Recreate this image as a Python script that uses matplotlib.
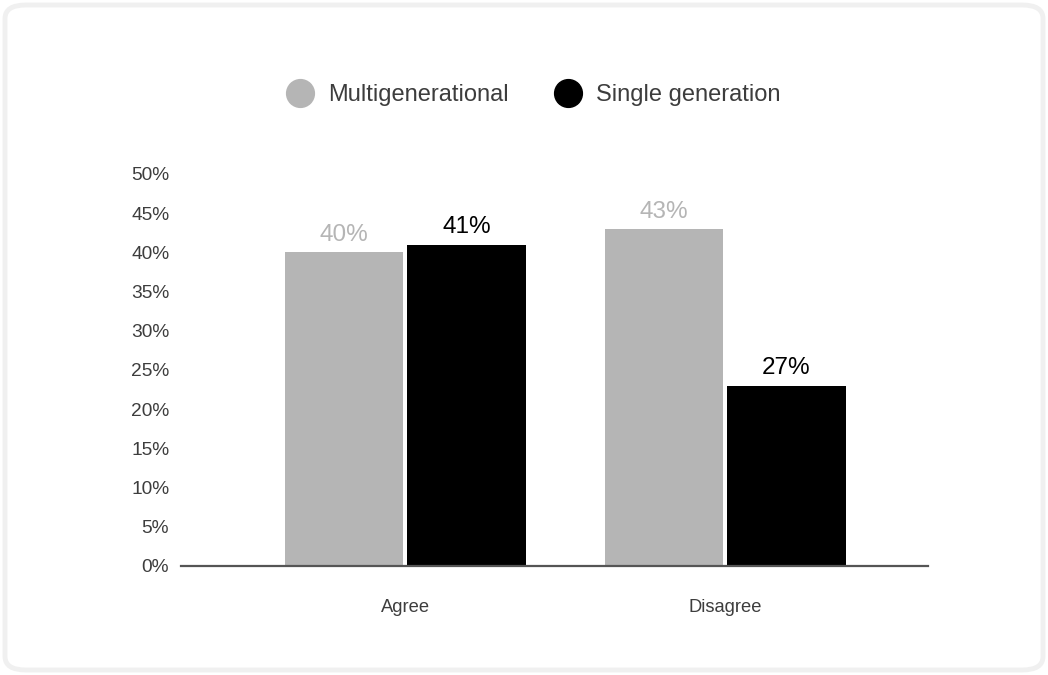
import matplotlib.pyplot as plt
from matplotlib.lines import Line2D
from matplotlib.patches import FancyBboxPatch
import numpy as np

plt.rcParams['font.family'] = ['Liberation Sans', 'DejaVu Sans']

categories = ['Agree', 'Disagree']
series_names = ['Multigenerational', 'Single generation']
multi_values = [40, 43]
single_values = [41, 23]
multi_labels = ['40%', '43%']
single_labels = ['41%', '27%']
y_ticks = [0, 5, 10, 15, 20, 25, 30, 35, 40, 45, 50]

GRAY = '#b5b5b5'
BLACK = '#000000'
TEXT = '#3d3d3d'

fig = plt.figure(figsize=(10.48, 6.75), dpi=100)

# рамка с закруглёнными углами
frame = FancyBboxPatch((5 / 1048, 5 / 675), 1038 / 1048, 665 / 675,
                       boxstyle='round,pad=0,rounding_size=0.02',
                       transform=fig.transFigure, facecolor='white',
                       edgecolor='#f0f0f0', linewidth=3.5, zorder=-1)
fig.patches.append(frame)

ax = fig.add_axes([181 / 1048, 109 / 675, 747 / 1048, 392 / 675])
ax.set_facecolor('none')
ax.set_zorder(2)

x = np.arange(len(categories))
width = 0.369
offset = 0.192

bars_m = ax.bar(x - offset, multi_values, width, color=GRAY)
bars_s = ax.bar(x + offset, single_values, width, color=BLACK)

for b, lab in zip(bars_m, multi_labels):
    ax.text(b.get_x() + b.get_width() / 2, b.get_height() + 0.8, lab,
            ha='center', va='bottom', fontsize=17.5, color=GRAY)
for b, lab in zip(bars_s, single_labels):
    ax.text(b.get_x() + b.get_width() / 2, b.get_height() + 0.8, lab,
            ha='center', va='bottom', fontsize=17.5, color=BLACK)

ax.set_xlim(-0.7, 1.634)
ax.set_ylim(0, 50)
ax.set_yticks(y_ticks)
ax.set_yticklabels([f'{t}%' for t in y_ticks])
ax.set_xticks(x)
ax.set_xticklabels(categories)
ax.tick_params(axis='y', length=0, pad=8.5, labelsize=13.8, labelcolor=TEXT)
ax.tick_params(axis='x', length=0, pad=24, labelsize=13.2, labelcolor=TEXT)

for s in ['top', 'right', 'left']:
    ax.spines[s].set_visible(False)
ax.spines['bottom'].set_color('#555555')
ax.spines['bottom'].set_linewidth(1.6)

handles = [Line2D([], [], marker='o', linestyle='none', markersize=20,
                  markerfacecolor=GRAY, markeredgecolor=GRAY),
           Line2D([], [], marker='o', linestyle='none', markersize=20,
                  markerfacecolor=BLACK, markeredgecolor=BLACK)]
leg = fig.legend(handles, series_names, loc='center', ncol=2,
                 bbox_to_anchor=(0.509, 0.859), frameon=False,
                 fontsize=17, handletextpad=0.6, columnspacing=1.9,
                 handlelength=1.2)
for t in leg.get_texts():
    t.set_color(TEXT)

fig.savefig('out.png', dpi=100)
